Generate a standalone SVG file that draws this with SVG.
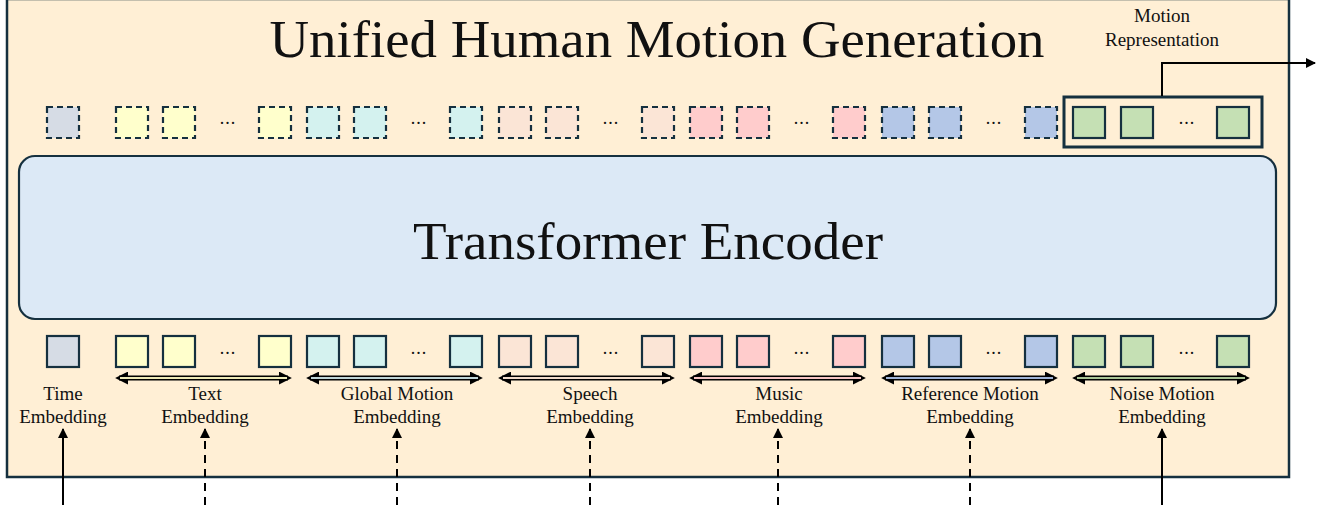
<svg xmlns="http://www.w3.org/2000/svg" width="1329" height="505" viewBox="0 0 1329 505">
  <defs>
    <style>
      .frame { fill: #FFEFD5; stroke: #15303F; stroke-width: 2.5; }
      .enc { fill: #DCE9F6; stroke: #15303F; stroke-width: 2.2; }
      .tok { stroke: #15303F; stroke-width: 2.2; }
      .dash { stroke-dasharray: 6 4; }
      .t { font-family: 'Liberation Serif', Tinos, 'Times New Roman', Times, serif; fill: #111; text-anchor: middle; }
      .lbl { font-size: 19px; }
      .dots { font-size: 18px; letter-spacing: 1px; }
      .flow { stroke: #000; stroke-width: 2; fill: none; }
      .flowd { stroke-dasharray: 8 6; }
      .span-o { stroke: #000; stroke-width: 5; }
      .time { fill: #D6DCE5; }
      .text { fill: #FFFFCC; }
      .glob { fill: #D4F2EF; }
      .speech { fill: #FBE5D6; }
      .music { fill: #FFCCCC; }
      .ref { fill: #B4C7E7; }
      .noise { fill: #C5E0B4; }
    </style>
    <marker id="ah" viewBox="0 0 10 10" refX="9" refY="5" markerWidth="5" markerHeight="5" orient="auto">
      <path d="M0,0 L10,5 L0,10 z" fill="#000"/>
    </marker>
    <marker id="sh" viewBox="0 0 10 10" refX="7" refY="5" markerWidth="2.6" markerHeight="2.6" orient="auto-start-reverse">
      <path d="M0,0 L10,5 L0,10 z" fill="#000"/>
    </marker>
  </defs>

  <!-- outer frame -->
  <g id="frame">
    <rect class="frame" x="7" y="-1" width="1282" height="478"/>
    <text class="t" x="657" y="57" font-size="53" textLength="775" lengthAdjust="spacingAndGlyphs">Unified Human Motion Generation</text>
  </g>

  <!-- encoder block -->
  <g id="encoder">
    <rect class="enc" x="19" y="156" width="1257" height="163" rx="16"/>
    <text class="t" x="648" y="259" font-size="53" textLength="470" lengthAdjust="spacingAndGlyphs">Transformer Encoder</text>
  </g>

  <!-- output tokens (top row) -->
  <g id="output-tokens">
    <rect class="tok dash time" x="47" y="107" width="32" height="31"/>
    <rect class="tok dash text" x="116" y="107" width="32" height="31"/>
    <rect class="tok dash text" x="163" y="107" width="32" height="31"/>
    <text class="t dots" x="228" y="124">...</text>
    <rect class="tok dash text" x="259" y="107" width="32" height="31"/>
    <rect class="tok dash glob" x="307" y="107" width="32" height="31"/>
    <rect class="tok dash glob" x="354" y="107" width="32" height="31"/>
    <text class="t dots" x="419" y="124">...</text>
    <rect class="tok dash glob" x="450" y="107" width="32" height="31"/>
    <rect class="tok dash speech" x="499" y="107" width="32" height="31"/>
    <rect class="tok dash speech" x="546" y="107" width="32" height="31"/>
    <text class="t dots" x="611" y="124">...</text>
    <rect class="tok dash speech" x="642" y="107" width="32" height="31"/>
    <rect class="tok dash music" x="690" y="107" width="32" height="31"/>
    <rect class="tok dash music" x="737" y="107" width="32" height="31"/>
    <text class="t dots" x="802" y="124">...</text>
    <rect class="tok dash music" x="833" y="107" width="32" height="31"/>
    <rect class="tok dash ref" x="882" y="107" width="32" height="31"/>
    <rect class="tok dash ref" x="929" y="107" width="32" height="31"/>
    <text class="t dots" x="994" y="124">...</text>
    <rect class="tok dash ref" x="1025" y="107" width="32" height="31"/>
  </g>

  <!-- motion representation output -->
  <g id="motion-representation">
    <rect x="1064" y="97" width="198" height="50" fill="none" stroke="#15303F" stroke-width="3"/>
    <rect class="tok noise" x="1073" y="107" width="32" height="31"/>
    <rect class="tok noise" x="1121" y="107" width="32" height="31"/>
    <text class="t dots" x="1187" y="124">...</text>
    <rect class="tok noise" x="1217" y="107" width="32" height="31"/>
    <text class="t" x="1162" y="22" font-size="19">Motion</text>
    <text class="t" x="1162" y="46" font-size="19">Representation</text>
  </g>

  <!-- input tokens (bottom row) -->
  <g id="input-tokens">
    <rect class="tok time" x="47" y="336" width="32" height="31"/>
    <rect class="tok text" x="116" y="336" width="32" height="31"/>
    <rect class="tok text" x="163" y="336" width="32" height="31"/>
    <text class="t dots" x="228" y="354">...</text>
    <rect class="tok text" x="259" y="336" width="32" height="31"/>
    <rect class="tok glob" x="307" y="336" width="32" height="31"/>
    <rect class="tok glob" x="354" y="336" width="32" height="31"/>
    <text class="t dots" x="419" y="354">...</text>
    <rect class="tok glob" x="450" y="336" width="32" height="31"/>
    <rect class="tok speech" x="499" y="336" width="32" height="31"/>
    <rect class="tok speech" x="546" y="336" width="32" height="31"/>
    <text class="t dots" x="611" y="354">...</text>
    <rect class="tok speech" x="642" y="336" width="32" height="31"/>
    <rect class="tok music" x="690" y="336" width="32" height="31"/>
    <rect class="tok music" x="737" y="336" width="32" height="31"/>
    <text class="t dots" x="802" y="354">...</text>
    <rect class="tok music" x="833" y="336" width="32" height="31"/>
    <rect class="tok ref" x="882" y="336" width="32" height="31"/>
    <rect class="tok ref" x="929" y="336" width="32" height="31"/>
    <text class="t dots" x="994" y="354">...</text>
    <rect class="tok ref" x="1025" y="336" width="32" height="31"/>
    <rect class="tok noise" x="1073" y="336" width="32" height="31"/>
    <rect class="tok noise" x="1121" y="336" width="32" height="31"/>
    <text class="t dots" x="1187" y="354">...</text>
    <rect class="tok noise" x="1217" y="336" width="32" height="31"/>
  </g>

  <!-- embedding labels -->
  <g id="labels">
    <text class="t lbl" x="63" y="400">Time</text>
    <text class="t lbl" x="63" y="423">Embedding</text>
    <text class="t lbl" x="205" y="400">Text</text>
    <text class="t lbl" x="205" y="423">Embedding</text>
    <text class="t lbl" x="397" y="400">Global Motion</text>
    <text class="t lbl" x="397" y="423">Embedding</text>
    <text class="t lbl" x="590" y="400">Speech</text>
    <text class="t lbl" x="590" y="423">Embedding</text>
    <text class="t lbl" x="779" y="400">Music</text>
    <text class="t lbl" x="779" y="423">Embedding</text>
    <text class="t lbl" x="970" y="400">Reference Motion</text>
    <text class="t lbl" x="970" y="423">Embedding</text>
    <text class="t lbl" x="1162" y="400">Noise Motion</text>
    <text class="t lbl" x="1162" y="423">Embedding</text>
  </g>

  <!-- connectors -->
  <g id="connectors">
    <!-- span arrows under each token group -->
    <line class="span-o" x1="119" y1="378" x2="288" y2="378" marker-start="url(#sh)" marker-end="url(#sh)"/>
    <line x1="120" y1="378" x2="287" y2="378" stroke="#EEEAB8" stroke-width="2"/>
    <line class="span-o" x1="310" y1="378" x2="479" y2="378" marker-start="url(#sh)" marker-end="url(#sh)"/>
    <line x1="311" y1="378" x2="478" y2="378" stroke="#BFD4D6" stroke-width="2"/>
    <line class="span-o" x1="502" y1="378" x2="671" y2="378" marker-start="url(#sh)" marker-end="url(#sh)"/>
    <line x1="503" y1="378" x2="670" y2="378" stroke="#F2DCCB" stroke-width="2"/>
    <line class="span-o" x1="693" y1="378" x2="862" y2="378" marker-start="url(#sh)" marker-end="url(#sh)"/>
    <line x1="694" y1="378" x2="861" y2="378" stroke="#F7C4C4" stroke-width="2"/>
    <line class="span-o" x1="885" y1="378" x2="1054" y2="378" marker-start="url(#sh)" marker-end="url(#sh)"/>
    <line x1="886" y1="378" x2="1053" y2="378" stroke="#9FB3D6" stroke-width="2"/>
    <line class="span-o" x1="1076" y1="378" x2="1246" y2="378" marker-start="url(#sh)" marker-end="url(#sh)"/>
    <line x1="1077" y1="378" x2="1245" y2="378" stroke="#A9C495" stroke-width="2"/>

    <!-- conditioning inputs -->
    <line class="flow" x1="63" y1="505" x2="63" y2="429" marker-end="url(#ah)"/>
    <line class="flow flowd" x1="205" y1="505" x2="205" y2="429" marker-end="url(#ah)"/>
    <line class="flow flowd" x1="397" y1="505" x2="397" y2="429" marker-end="url(#ah)"/>
    <line class="flow flowd" x1="590" y1="505" x2="590" y2="429" marker-end="url(#ah)"/>
    <line class="flow flowd" x1="778" y1="505" x2="778" y2="429" marker-end="url(#ah)"/>
    <line class="flow flowd" x1="970" y1="505" x2="970" y2="429" marker-end="url(#ah)"/>
    <line class="flow" x1="1162" y1="505" x2="1162" y2="429" marker-end="url(#ah)"/>

    <!-- output path -->
    <polyline class="flow" points="1162,96 1162,63 1315,63" marker-end="url(#ah)"/>
  </g>
</svg>
